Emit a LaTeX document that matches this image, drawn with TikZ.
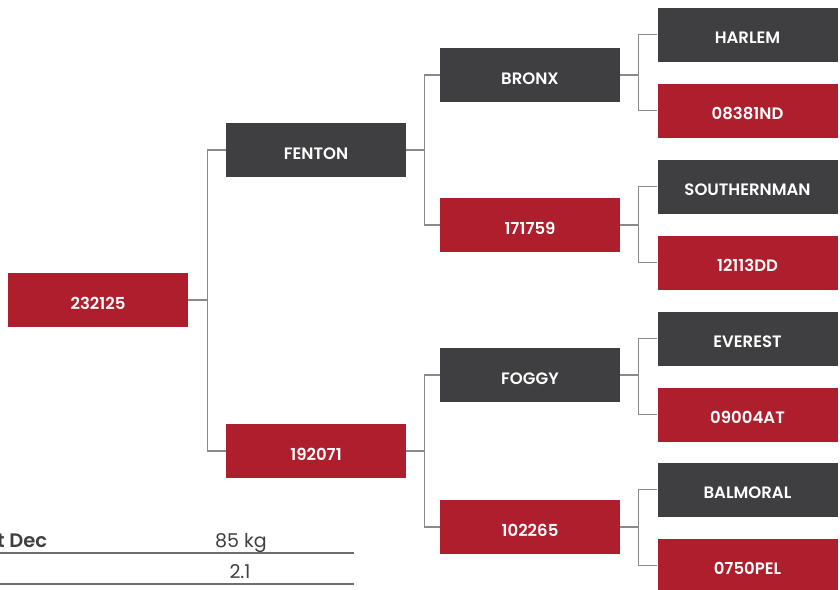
\documentclass[tikz,border=0pt]{standalone}
\usepackage{fontspec}
\setmainfont{Poppins}
\IfFontExistsTF{Poppins SemiBold}
  {\newfontfamily\labelfont{Poppins SemiBold}}
  {\newfontfamily\labelfont{Poppins}[FakeBold=2]}
\usepackage{tikz}
\usetikzlibrary{positioning, calc}
\definecolor{sirecolor}{HTML}{3F3F41}
\definecolor{damcolor}{HTML}{AF1E2D}
\definecolor{linkcolor}{HTML}{8A8A8A}
\definecolor{rulecolor}{HTML}{6E6E6E}
\tikzset{
  horse/.style={rectangle, minimum width=180pt, minimum height=54pt,
                inner sep=0pt, fill=#1, text=white, text height=18pt, text depth=0pt,
                font=\labelfont\fontsize{16.5}{19}\selectfont},
  sire/.style={horse=sirecolor},
  dam/.style={horse=damcolor},
  link/.style={draw=linkcolor, line width=1.1pt},
  tablerule/.style={draw=rulecolor, line width=1.2pt},
  celltext/.style={font=\fontsize{19}{22}\selectfont, text=sirecolor, inner sep=0pt},
}

\begin{document}
\begin{tikzpicture}[x=1pt, y=-1pt]
  \useasboundingbox (0,0) rectangle (840,589);

  % generation 0 and 1
  \node[dam]  (root)   at (98,300)  {232125};
  \node[sire] (fenton) at (316,150) {FENTON};
  \node[dam]  (damA)   at (316,451) {192071};

  % generation 2
  \node[sire] (bronx) at (530,75)  {BRONX};
  \node[dam]  (damB)  at (530,225) {171759};
  \node[sire] (foggy) at (530,375) {FOGGY};
  \node[dam]  (damC)  at (530,527) {102265};

  % generation 3
  \node[sire] (harlem)   at (747.5,34.5)  {HARLEM};
  \node[dam]  (damD)     at (747.5,110.5) {08381ND};
  \node[sire] (southern) at (747.5,186.5) {SOUTHERNMAN};
  \node[dam]  (damE)     at (747.5,262.5) {12113DD};
  \node[sire] (everest)  at (747.5,338.5) {EVEREST};
  \node[dam]  (damF)     at (747.5,414.5) {09004AT};
  \node[sire] (balmoral) at (747.5,489.5) {BALMORAL};
  \node[dam]  (damG)     at (747.5,565.5) {0750PEL};

  % connectors
  \draw[link] (root.east) -- ++(19,0) |- (fenton.west);
  \draw[link] (root.east) -- ++(19,0) |- (damA.west);
  \draw[link] (fenton.east) -- ++(18,0) |- (bronx.west);
  \draw[link] (fenton.east) -- ++(18,0) |- (damB.west);
  \draw[link] (damA.east) -- ++(18,0) |- (foggy.west);
  \draw[link] (damA.east) -- ++(18,0) |- (damC.west);
  \draw[link] (bronx.east) -- ++(18,0) |- (harlem.west);
  \draw[link] (bronx.east) -- ++(18,0) |- (damD.west);
  \draw[link] (damB.east) -- ++(18,0) |- (southern.west);
  \draw[link] (damB.east) -- ++(18,0) |- (damE.west);
  \draw[link] (foggy.east) -- ++(18,0) |- (everest.west);
  \draw[link] (foggy.east) -- ++(18,0) |- (damF.west);
  \draw[link] (damC.east) -- ++(18,0) |- (balmoral.west);
  \draw[link] (damC.east) -- ++(18,0) |- (damG.west);

  % table
  \node[celltext, anchor=base west, font=\labelfont\fontsize{19.5}{22}\selectfont]
    (weightlbl) at (-3,547) {t Dec};
  \node[celltext, anchor=base] (weightval) at (241,547) {85 kg};
  \node[celltext, anchor=base] (ratioval) at (240,578) {2.1};
  \draw[tablerule] (0,553) -- (354,553);
  \draw[tablerule] (0,584) -- (354,584);
\end{tikzpicture}
\end{document}
